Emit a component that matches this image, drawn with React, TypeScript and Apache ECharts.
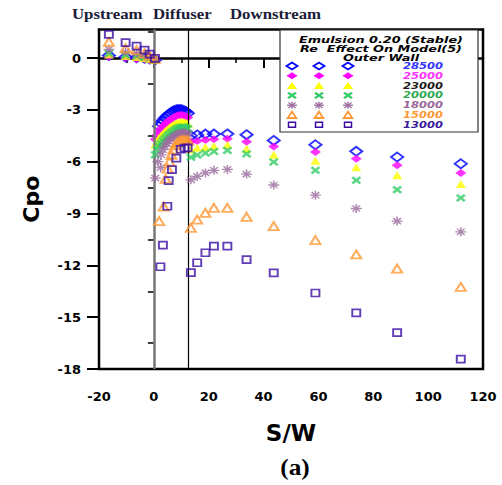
import React, { useEffect, useRef } from 'react';
import * as echarts from 'echarts';

// ---- data ----
const reynolds = ['28500', '25000', '23000', '20000', '18000', '15000', '13000'];
const xTickLabels = [-20, 0, 20, 40, 60, 80, 100, 120];
const yTickLabels = [-18, -15, -12, -9, -6, -3, 0];
const regionBoundaries = [0, 12.7];

const xUpstream = [-16.4, -10.3, -6.3, -3.4, -1.5, 0.4];
const xDiffuser = [0.5, 1.2, 1.9, 2.6, 3.3, 4.0, 4.7, 5.4, 6.1, 6.8, 7.5, 8.2, 8.9, 9.6, 10.3, 11.0, 11.7, 12.4];
const xDownstream = [13.5, 15.8, 18.8, 21.9, 26.8, 33.8, 43.7, 58.9, 73.8, 88.7, 111.9];

const xDiff28500 = [1.9, 2.6, 3.3, 4.0, 4.7, 5.4, 6.1, 6.8, 7.5, 8.2, 8.9, 9.6, 10.3, 11.0, 11.7, 12.4];
const xDiff18000 = [0.5, 1.5, 2.5, 2.6, 3.3, 4.0, 4.7, 5.4, 6.1, 6.8, 7.5, 8.2, 8.9, 9.6, 10.3, 11.0, 11.7, 12.4];
const xDiff15000 = [1.9, 3.6, 4.3, 5.0, 5.7, 6.4, 7.1, 7.8, 8.5, 9.2, 9.9, 10.6, 11.3, 12.0, 12.5];
const xDiff13000 = [2.4, 3.3, 4.9, 5.4, 6.6, 8.2, 9.8, 11.2, 12.3];

const up28500 = [0.15, 0.06, 0.02, -0.02, -0.06, -0.12];
const up25000 = [0.08, 0.0, -0.06, -0.06, -0.1, -0.15];
const up23000 = [0.2, 0.12, 0.06, 0.0, -0.04, -0.12];
const up20000 = [0.27, 0.17, 0.12, 0.04, 0.0, -0.1];
const up18000 = [0.5, 0.36, 0.27, 0.17, 0.06, -0.08];
const up15000 = [0.94, 0.56, 0.46, 0.27, 0.12, -0.04];
const up13000 = [1.37, 0.89, 0.69, 0.46, 0.23, -0.02];

const diff28500 = [-3.95, -3.78, -3.62, -3.48, -3.37, -3.27, -3.18, -3.1, -3.04, -3.0, -2.98, -2.98, -3.0, -3.05, -3.1, -3.2];
const diff25000 = [-4.7, -4.45, -4.25, -4.1, -3.97, -3.85, -3.74, -3.65, -3.56, -3.48, -3.41, -3.36, -3.32, -3.3, -3.3, -3.33, -3.38, -3.45];
const diff23000 = [-5.0, -4.8, -4.62, -4.48, -4.36, -4.24, -4.14, -4.05, -3.97, -3.89, -3.82, -3.77, -3.72, -3.7, -3.69, -3.7, -3.74, -3.8];
const diff20000 = [-5.6, -5.3, -5.1, -4.95, -4.8, -4.68, -4.56, -4.45, -4.36, -4.27, -4.19, -4.12, -4.06, -4.02, -4.0, -4.0, -4.03, -4.1];
const diff18000 = [-6.95, -6.0, -6.35, -5.6, -5.3, -5.1, -4.95, -4.8, -4.7, -4.6, -4.52, -4.45, -4.4, -4.35, -4.33, -4.33, -4.35, -4.4];
const diff15000 = [-9.44, -8.6, -7.0, -6.4, -6.0, -5.6, -5.3, -5.05, -4.9, -4.82, -4.78, -4.76, -4.76, -4.78, -4.8];
const diff13000 = [-12.08, -10.83, -8.58, -7.1, -6.46, -5.8, -5.28, -5.22, -5.2];

const down28500 = [-4.5, -4.45, -4.4, -4.4, -4.39, -4.44, -4.77, -5.02, -5.4, -5.73, -6.12];
const down25000 = [-4.85, -4.8, -4.75, -4.7, -4.67, -4.85, -5.12, -5.44, -5.83, -6.21, -6.65];
const down23000 = [-5.3, -5.2, -5.15, -5.1, -5.02, -5.25, -5.6, -5.94, -6.33, -6.79, -7.29];
const down20000 = [-5.75, -5.62, -5.5, -5.41, -5.35, -5.55, -6.02, -6.5, -7.08, -7.62, -8.1];
const down18000 = [-7.05, -6.85, -6.65, -6.5, -6.45, -6.72, -7.35, -7.94, -8.71, -9.44, -10.06];
const down15000 = [-9.83, -9.35, -8.96, -8.67, -8.67, -9.19, -9.73, -10.54, -11.37, -12.19, -13.25];
const down13000 = [-12.42, -11.85, -11.27, -10.89, -10.89, -11.67, -12.44, -13.6, -14.75, -15.89, -17.43];

// ---- helpers & styles ----
const pts = (xs: number[], ys: number[]) => xs.map((x, i) => [x, ys[i]]);
const combine = (up: number[], dx: number[], dy: number[], down: number[]) => [
  ...pts(xUpstream, up),
  ...pts(dx, dy),
  ...pts(xDownstream, down),
];

const seriesData = [
  combine(up28500, xDiff28500, diff28500, down28500),
  combine(up25000, xDiffuser, diff25000, down25000),
  combine(up23000, xDiffuser, diff23000, down23000),
  combine(up20000, xDiffuser, diff20000, down20000),
  combine(up18000, xDiff18000, diff18000, down18000),
  combine(up15000, xDiff15000, diff15000, down15000),
  combine(up13000, xDiff13000, diff13000, down13000),
];

const X_PATH = 'path://M0,2 L2,0 L5,3 L8,0 L10,2 L7,5 L10,8 L8,10 L5,7 L2,10 L0,8 L3,5 Z';
const STAR_PATH = 'path://M0,5 L10,5 M5,0 L5,10 M1.5,1.5 L8.5,8.5 M1.5,8.5 L8.5,1.5';
const NONE = 'rgba(0,0,0,0)';
const colors = ['#0000ff', '#ff00ff', '#ffff00', '#33cc66', '#9a6a9e', '#ff9933', '#3a0ca3'];

const markerStyles = [
  { symbol: 'diamond', size: [12, 9], itemStyle: { color: NONE, borderColor: colors[0], borderWidth: 2 } },
  { symbol: 'diamond', size: [11, 8], itemStyle: { color: colors[1], borderWidth: 0 } },
  { symbol: 'triangle', size: [10, 8], itemStyle: { color: colors[2], borderWidth: 0 } },
  { symbol: X_PATH, size: [10, 8], itemStyle: { color: colors[3], borderWidth: 0 } },
  { symbol: STAR_PATH, size: [11, 9], itemStyle: { color: colors[4], borderColor: colors[4], borderWidth: 1.4 } },
  { symbol: 'triangle', size: [10, 8], itemStyle: { color: NONE, borderColor: colors[5], borderWidth: 2 } },
  { symbol: 'rect', size: [8, 7], itemStyle: { color: NONE, borderColor: colors[6], borderWidth: 1.8 } },
];
const legendTextColors = ['#3333ff', '#ff33ff', '#1a1a1a', '#2eaa55', '#996699', '#ff9933', '#3a1a9a'];

const legendRowsY = [66, 75.8, 85.6, 95.4, 105.2, 115, 124.8];
const legendMarkerX = [292, 319, 348];

function legendMarker(i: number, cx: number, cy: number): any[] {
  const c = colors[i];
  const poly = (p: number[][], style: any) => ({
    type: 'polygon',
    z: 11,
    shape: { points: p.map(([x, y]) => [cx + x, cy + y]) },
    style,
  });
  const line = (x1: number, y1: number, x2: number, y2: number) => ({
    type: 'line',
    z: 11,
    shape: { x1: cx + x1, y1: cy + y1, x2: cx + x2, y2: cy + y2 },
    style: { stroke: c, lineWidth: 1.3 },
  });
  switch (i) {
    case 0:
      return [poly([[-5.5, 0], [0, -3.5], [5.5, 0], [0, 3.5]], { fill: 'none', stroke: c, lineWidth: 1.8 })];
    case 1:
      return [poly([[-5.5, 0], [0, -3.5], [5.5, 0], [0, 3.5]], { fill: c })];
    case 2:
      return [poly([[-5, 3.5], [0, -3.5], [5, 3.5]], { fill: c })];
    case 3: {
      const base = [[0, 2], [2, 0], [5, 3], [8, 0], [10, 2], [7, 5], [10, 8], [8, 10], [5, 7], [2, 10], [0, 8], [3, 5]];
      return [poly(base.map(([x, y]) => [x - 5, (y - 5) * 0.7]), { fill: c })];
    }
    case 4:
      return [line(-5, 0, 5, 0), line(0, -3.5, 0, 3.5), line(-3.6, -2.8, 3.6, 2.8), line(-3.6, 2.8, 3.6, -2.8)];
    case 5:
      return [poly([[-4.3, 3], [0, -3.3], [4.3, 3]], { fill: 'none', stroke: c, lineWidth: 1.8 })];
    default:
      return [
        {
          type: 'rect',
          z: 11,
          shape: { x: cx - 3.5, y: cy - 2.5, width: 7, height: 5 },
          style: { fill: 'none', stroke: c, lineWidth: 1.5 },
        },
      ];
  }
}

export default function App() {
  const ref = useRef<HTMLDivElement>(null);
  useEffect(() => {
    const chart = echarts.init(ref.current!, null, { renderer: 'svg' });

    const series: any[] = reynolds.map((name, i) => ({
      name,
      type: 'scatter',
      data: seriesData[i],
      symbol: markerStyles[i].symbol,
      symbolSize: markerStyles[i].size,
      itemStyle: markerStyles[i].itemStyle,
      z: 2 + i,
      silent: true,
      clip: false,
    }));
    series[0].markLine = {
      silent: true,
      symbol: 'none',
      label: { show: false },
      animation: false,
      data: [
        { xAxis: regionBoundaries[0], lineStyle: { color: '#777', width: 2.5, type: 'solid' } },
        { xAxis: regionBoundaries[1], lineStyle: { color: '#000', width: 1.2, type: 'solid' } },
      ],
    };

    const majors = yTickLabels;
    const minors = yTickLabels.map((v) => v + 1.5);

    const legendMarks: any[] = [];
    reynolds.forEach((_, i) => {
      legendMarkerX.forEach((cx) => legendMarks.push(...legendMarker(i, cx, legendRowsY[i])));
    });

    const graphic: any[] = [
      {
        type: 'rect',
        z: 5,
        shape: { x: 280, y: 30, width: 198, height: 102 },
        style: { fill: '#fff', stroke: '#333', lineWidth: 1.2 },
      },
      ...legendMarks,
      ...['Emulsion 0.20 (Stable)', 'Re  Effect On Model(5)', 'Outer Wall'].map((t, i) => ({
        type: 'text',
        z: 11,
        x: 381,
        y: [40, 49, 57.7][i],
        scaleX: 1.35,
        style: {
          text: t,
          font: 'italic bold 9.5px "DejaVu Sans"',
          fill: '#000',
          align: 'center',
          verticalAlign: 'middle',
          textAlign: 'center',
          textVerticalAlign: 'middle',
        },
      })),
      ...reynolds.map((t, i) => ({
        type: 'text',
        z: 11,
        x: 403,
        y: legendRowsY[i],
        scaleX: 1.35,
        style: {
          text: t,
          font: 'italic bold 8.5px "DejaVu Sans"',
          fill: legendTextColors[i],
          align: 'left',
          verticalAlign: 'middle',
          textAlign: 'left',
          textVerticalAlign: 'middle',
        },
      })),
      ...[
        ['Upstream', 72],
        ['Diffuser', 153],
        ['Downstream', 230],
      ].map(([t, x]) => ({
        type: 'text',
        z: 11,
        x: x as number,
        y: 14.5,
        scaleX: 1.2,
        style: {
          text: t as string,
          font: 'bold 14px "Liberation Serif"',
          fill: '#1b1b3a',
          align: 'left',
          verticalAlign: 'middle',
          textAlign: 'left',
          textVerticalAlign: 'middle',
        },
      })),
      {
        type: 'text',
        z: 11,
        x: 295,
        y: 467,
        scaleX: 1.1,
        style: {
          text: '(a)',
          font: 'bold 23px "Liberation Serif"',
          fill: '#000',
          align: 'center',
          verticalAlign: 'middle',
          textAlign: 'center',
          textVerticalAlign: 'middle',
        },
      },
    ];

    const tickFont = { fontFamily: 'DejaVu Sans', fontWeight: 'bold', fontSize: 13, color: '#000' };

    chart.setOption({
      animation: false,
      backgroundColor: '#fff',
      grid: {
        left: 99,
        right: 19,
        top: 29.5,
        bottom: 116,
        show: true,
        borderColor: '#000',
        borderWidth: 2.5,
        backgroundColor: 'transparent',
      },
      xAxis: {
        type: 'value',
        min: -20,
        max: 120,
        interval: 20,
        name: 'S/W',
        nameLocation: 'middle',
        nameGap: 52,
        nameTextStyle: { fontFamily: 'DejaVu Sans', fontWeight: 'bold', fontSize: 23, color: '#000' },
        axisLine: { show: true, lineStyle: { color: '#000', width: 2.5 } },
        axisTick: { show: true, inside: false, length: 10, lineStyle: { color: '#000', width: 2 } },
        minorTick: { show: true, splitNumber: 2, length: 5, lineStyle: { color: '#000', width: 1.5 } },
        axisLabel: { ...tickFont, margin: 21, customValues: xTickLabels },
        splitLine: { show: false },
        minorSplitLine: { show: false },
      },
      yAxis: [
        {
          type: 'value',
          min: -18,
          max: 1.65,
          position: 'left',
          name: 'Cpo',
          nameLocation: 'middle',
          nameGap: 57,
          nameTextStyle: { fontFamily: 'DejaVu Sans', fontWeight: 'bold', fontSize: 22, color: '#000' },
          axisLine: { show: true, onZero: false, lineStyle: { color: '#000', width: 2 } },
          axisTick: { show: true, length: 12, customValues: majors, lineStyle: { color: '#000', width: 2 } },
          axisLabel: { ...tickFont, margin: 18, customValues: majors },
          splitLine: { show: false },
        },
        {
          type: 'value',
          min: -18,
          max: 1.65,
          position: 'left',
          offset: 0,
          axisLine: { show: false },
          axisTick: { show: true, length: 6, customValues: minors, lineStyle: { color: '#000', width: 1.5 } },
          axisLabel: { show: false },
          splitLine: { show: false },
        },
      ],
      series,
      graphic,
    });
    return () => chart.dispose();
  }, []);
  return (
    <div
      ref={ref}
      style={{ position: 'fixed', left: 0, top: 0, width: 502, height: 485, background: '#fff' }}
    />
  );
}
